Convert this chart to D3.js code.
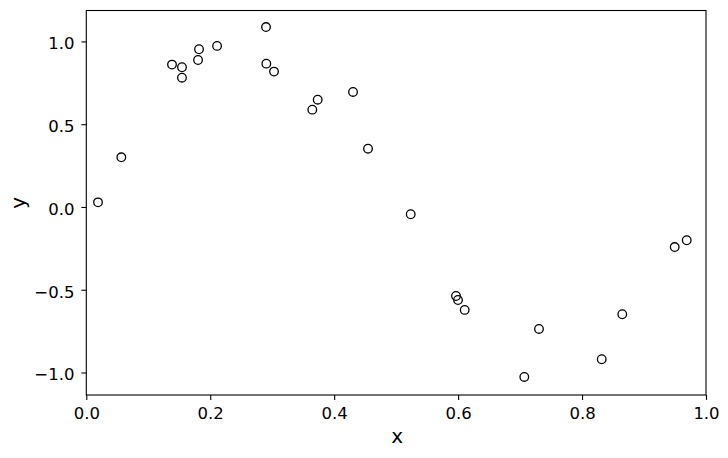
<!DOCTYPE html>
<html>
<head>
<meta charset="utf-8">
<script src="https://cdn.jsdelivr.net/npm/d3@7"></script>
<style>
  html, body { margin: 0; padding: 0; background: #fff; }
  svg { display: block; font-family: "DejaVu Sans", sans-serif; }
</style>
</head>
<body>
<svg id="chart" width="728" height="458"></svg>
<script>
const xValues = [0.0189, 0.0565, 0.1383, 0.1544, 0.1544, 0.1819, 0.1803, 0.2110, 0.2900, 0.2905,
                 0.3029, 0.3647, 0.3734, 0.4304, 0.4546, 0.5235, 0.5966, 0.5998, 0.6106, 0.7068,
                 0.7305, 0.8317, 0.8649, 0.9495, 0.9689];
const yValues = [0.028, 0.300, 0.860, 0.844, 0.781, 0.953, 0.888, 0.973, 1.087, 0.866,
                 0.818, 0.588, 0.648, 0.695, 0.352, -0.044, -0.538, -0.562, -0.622, -1.027,
                 -0.737, -0.920, -0.648, -0.242, -0.201];
const xTicks = [0, 0.2, 0.4, 0.6, 0.8, 1.0];
const yTicks = [-1.0, -0.5, 0.0, 0.5, 1.0];
const xLabel = "x";
const yLabel = "y";

(function () {
const svg = d3.select("#chart");
const mLeft = 86.3, mRight = 706, mTop = 10.5, mBottom = 395;

const x = d3.scaleLinear().domain([0, 1]).range([mLeft, mRight]);
const y = d3.scaleLinear().domain([-1.136, 1.187]).range([mBottom, mTop]);

const fmt = d3.format(".1f");
const minusFmt = v => fmt(v).replace("-", "\u2212");

const xAxis = svg.append("g")
  .attr("transform", `translate(0,${mBottom})`)
  .call(d3.axisBottom(x).tickValues(xTicks).tickFormat(minusFmt).tickSize(4.9).tickPadding(7.3));
const yAxis = svg.append("g")
  .attr("transform", `translate(${mLeft},0)`)
  .call(d3.axisLeft(y).tickValues(yTicks).tickFormat(minusFmt).tickSize(4.9).tickPadding(7));

[xAxis, yAxis].forEach(g => {
  g.attr("font-size", null).attr("font-family", null);
  g.select(".domain").remove();
  g.selectAll(".tick line").attr("stroke", "#000").attr("stroke-width", 1.1);
  g.selectAll(".tick text").attr("fill", "#000")
    .style("font-size", "16.5px")
    .style("font-family", "'DejaVu Sans'");
});
yAxis.selectAll(".tick text").attr("dy", "0.45em");

svg.append("rect")
  .attr("x", mLeft).attr("y", mTop)
  .attr("width", mRight - mLeft).attr("height", mBottom - mTop)
  .attr("fill", "none").attr("stroke", "#000").attr("stroke-width", 1.1);

svg.append("g").selectAll("circle")
  .data(xValues.map((v, i) => [v, yValues[i]]))
  .join("circle")
  .attr("cx", d => x(d[0]))
  .attr("cy", d => y(d[1]))
  .attr("r", 4.3)
  .attr("fill", "none")
  .attr("stroke", "#000")
  .attr("stroke-width", 1.3);

svg.append("text")
  .attr("x", (mLeft + mRight) / 2 + 1).attr("y", 443)
  .attr("text-anchor", "middle")
  .style("font-size", "20px")
  .style("font-family", "'DejaVu Sans'")
  .text(xLabel);
svg.append("text")
  .attr("transform", `translate(24.5,${(mTop + mBottom) / 2}) rotate(-90)`)
  .attr("text-anchor", "middle")
  .style("font-size", "20px")
  .style("font-family", "'DejaVu Sans'")
  .text(yLabel);
})();
</script>
</body>
</html>
